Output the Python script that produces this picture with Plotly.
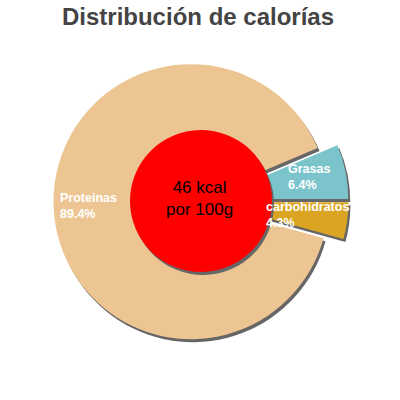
import plotly.graph_objects as go

# ---- data ----
labels = ["Grasas", "carbohidratos", "Proteinas"]
values = [6.4, 4.3, 89.4]
colors = ["#7bc4cc", "#dba523", "#edc593"]
kcal = 46
title_text = "Distribución de calorías"

# ---- layout constants (pixels in a 400x400 figure) ----
W = H = 400
CX, CY = 201, 201          # pie centre
R = 137.5                  # pie radius
PULL_PX = 10               # slice pull distance
R_INNER = 71               # red centre disc radius
SH_DX, SH_DY = 2, 3        # shadow offset
FONT = "Liberation Sans, Arial, sans-serif"

pull = PULL_PX / R
half = R * (1 + pull)


def dom(cx, cy, h):
    return dict(x=[(cx - h) / W, (cx + h) / W],
                y=[1 - (cy + h) / H, 1 - (cy - h) / H])


total = sum(values)
rotation = 90 - values[0] / total * 360

common = dict(sort=False, direction="clockwise", rotation=rotation,
              textinfo="none", hoverinfo="skip", showlegend=False)

fig = go.Figure()
# shadow of the ring
fig.add_trace(go.Pie(values=values, labels=labels, pull=[pull] * len(values),
                     marker=dict(colors=["#666666"] * len(values), line=dict(width=0)),
                     domain=dom(CX + SH_DX, CY + SH_DY, half), **common))
# ring
fig.add_trace(go.Pie(values=values, labels=labels, pull=[pull] * len(values),
                     marker=dict(colors=colors, line=dict(width=0)),
                     domain=dom(CX, CY, half), **common))
# shadow of centre disc
fig.add_trace(go.Pie(values=[1], labels=["c"], marker=dict(colors=["#666666"], line=dict(width=0)),
                     domain=dom(CX + SH_DX, CY + SH_DY, R_INNER), **common))
# centre disc
fig.add_trace(go.Pie(values=[1], labels=["c"], marker=dict(colors=["#ff0000"], line=dict(width=0)),
                     domain=dom(CX, CY, R_INNER), **common))

anns = []


def add_text(txt, px, py, size, color, xanchor="left"):
    anns.append(dict(text=txt, x=px / W, y=1 - py / H,
                     xref="paper", yref="paper", xanchor=xanchor, yanchor="middle",
                     align=xanchor if xanchor != "center" else "center",
                     showarrow=False, font=dict(family=FONT, size=size, color=color)))


# slice labels - block positions in pixels (left x, middle y)
label_pos = {"Grasas": (286, 177),
             "carbohidratos": (264, 215),
             "Proteinas": (58, 206)}
for lab, v in zip(labels, values):
    x, y = label_pos[lab]
    add_text(f"<b>{lab}</b><br><b>{v}%</b>", x, y, 12.5, "white")

# centre text
add_text(f"{kcal} kcal<br>por 100g", 199.5, 198, 17, "black", xanchor="center")

fig.update_layout(
    width=W, height=H,
    margin=dict(l=0, r=0, t=0, b=0, autoexpand=False),
    paper_bgcolor="white", plot_bgcolor="white",
    title=dict(text=f"<b>{title_text}</b>", x=198 / W, xanchor="center",
               y=1 - 16.5 / H, yanchor="middle", yref="container", automargin=False,
               font=dict(family=FONT, size=24, color="#444444")),
    annotations=anns,
)

fig.write_html("out.html", config={"displayModeBar": False},
               post_script="document.body.style.margin='0';")
